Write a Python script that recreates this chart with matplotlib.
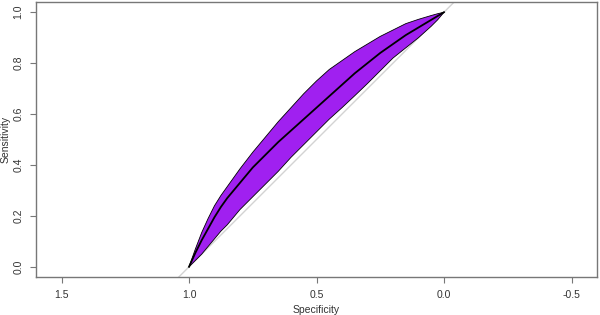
import matplotlib.pyplot as plt

# ROC curve (pROC style) with confidence band of sensitivity
specificity = [1.0, 0.975, 0.95, 0.925, 0.9, 0.875, 0.85, 0.825, 0.8, 0.75, 0.7, 0.65, 0.6,
               0.55, 0.5, 0.45, 0.4, 0.35, 0.3, 0.25, 0.2, 0.15, 0.1, 0.05, 0.025, 0.0]
sens_mid = [0.0, 0.055, 0.105, 0.15, 0.195, 0.235, 0.27, 0.3, 0.33, 0.39, 0.44, 0.49, 0.535,
            0.58, 0.625, 0.67, 0.715, 0.76, 0.8, 0.84, 0.875, 0.91, 0.94, 0.97, 0.985, 1.0]
sens_upper = [0.0, 0.07, 0.135, 0.19, 0.24, 0.28, 0.315, 0.35, 0.385, 0.45, 0.51, 0.57, 0.625,
              0.68, 0.73, 0.775, 0.81, 0.845, 0.875, 0.905, 0.93, 0.955, 0.972, 0.987, 0.994, 1.0]
sens_lower = [0.0, 0.025, 0.05, 0.08, 0.11, 0.14, 0.165, 0.195, 0.225, 0.275, 0.325, 0.375, 0.43,
              0.48, 0.53, 0.58, 0.625, 0.672, 0.72, 0.77, 0.82, 0.86, 0.9, 0.945, 0.97, 1.0]

x_ticks = [1.5, 1.0, 0.5, 0.0, -0.5]
y_ticks = [0.0, 0.2, 0.4, 0.6, 0.8, 1.0]

plt.rcParams['font.family'] = ['Liberation Sans', 'DejaVu Sans']

fig = plt.figure(figsize=(6, 3.15), dpi=100)
ax = fig.add_axes([0.06, 0.1206, 0.935, 0.873])

# diagonal reference line
ax.axline((1, 0), (0, 1), color='#d3d3d3', lw=1, zorder=1)

# confidence band
band_x = specificity + specificity[::-1]
band_y = sens_upper + sens_lower[::-1]
ax.fill(band_x, band_y, facecolor='#A020F0', edgecolor='black', lw=0.6, zorder=2)

ax.plot(specificity, sens_mid, color='black', lw=1.3, zorder=3)

ax.set_xlim(1.6, -0.6)
ax.set_ylim(-0.04, 1.04)
ax.set_xticks(x_ticks)
ax.set_xticklabels(['%.1f' % v for v in x_ticks])
ax.set_yticks(y_ticks)
ax.set_yticklabels(['%.1f' % v for v in y_ticks], rotation=90, va='center')

for s in ax.spines.values():
    s.set_color('#777777')
    s.set_linewidth(1)
ax.tick_params(axis='both', labelsize=7.5, colors='#333333', length=4, color='#777777', pad=5)

ax.set_xlabel('Specificity', fontsize=7.5, color='#333333', labelpad=4)
ax.set_ylabel('Sensitivity', fontsize=7.5, color='#333333', labelpad=2)

plt.savefig('out.png')
